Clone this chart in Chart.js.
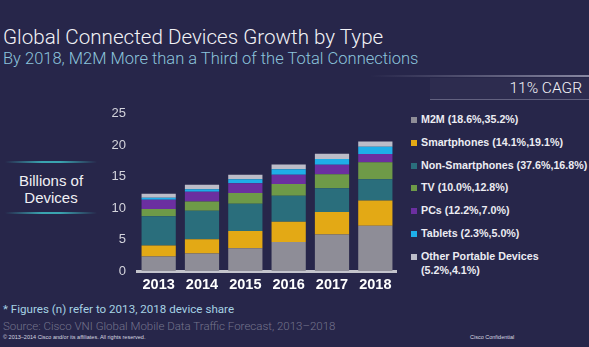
<!DOCTYPE html>
<html>
<head>
<meta charset="utf-8">
<script src="https://cdn.jsdelivr.net/npm/chart.js@4"></script>
<style>
  body { margin: 0; background: #27264a; width: 589px; height: 347px; overflow: hidden; position: relative; font-family: Roboto, "Liberation Sans", sans-serif; }
  .abs { position: absolute; white-space: nowrap; }
  #title { left: 3px; top: 25px; font-size: 20.6px; font-weight: 300; color: #f2f2f6; }
  #subtitle { left: 3px; top: 49px; font-size: 16.5px; font-weight: 300; color: #8cc4dc; }
  #sep { left: 370px; top: 75px; width: 219px; height: 2px; background: linear-gradient(to right, rgba(200,200,220,0), rgba(200,200,220,0.6)); }
  #cagr { left: 430px; top: 78px; width: 159px; height: 21px; border-bottom: 1px solid rgba(200,200,220,0.35); background: rgba(255,255,255,0.03); }
  #cagr span { position: absolute; right: 7px; top: 1px; font-size: 15.5px; font-weight: 300; color: #f4f4f8; }
  #units { left: 5px; top: 161px; width: 92px; height: 52px; text-align: center; color: #f0f0f4; font-size: 15px; line-height: 17px; font-family: "Liberation Sans", Arial, sans-serif; }
  .glow { position: absolute; left: 0; width: 92px; height: 2px; background: linear-gradient(to right, rgba(60,170,180,0), #3aa4b0 40%, #3aa4b0 60%, rgba(60,170,180,0)); }
  #legend { left: 411px; top: 112px; font-family: "Liberation Sans", Arial, sans-serif; font-weight: bold; font-size: 10.7px; color: #ececf2; }
  .item { position: absolute; left: 0; }
  .sw { position: absolute; left: 0; width: 6px; height: 6px; top: 5px; }
  .txt { position: absolute; left: 10px; top: 0; line-height: 14px; }
  #note { left: 3px; top: 302px; font-size: 11.6px; color: #a6d2e4; }
  #source { left: 3px; top: 319px; font-size: 11.5px; font-weight: 300; color: #74748c; }
  #copy { left: 3px; top: 334px; font-size: 5.5px; color: #d8d8e0; font-family: "Liberation Sans", Arial, sans-serif; }
  #conf { left: 470px; top: 334px; font-size: 5.5px; color: #d8d8e0; font-family: "Liberation Sans", Arial, sans-serif; }
  #chart { position: absolute; left: 100px; top: 95px; }
</style>
</head>
<body>
<div id="title" class="abs">Global Connected Devices Growth by Type</div>
<div id="subtitle" class="abs">By 2018, M2M More than a Third of the Total Connections</div>
<div id="sep" class="abs"></div>
<div id="cagr" class="abs"><span>11% CAGR</span></div>
<div id="units" class="abs">
  <div class="glow" style="top:0"></div>
  <div style="position:absolute;top:11px;width:92px">Billions of<br>Devices</div>
  <div class="glow" style="top:51px"></div>
</div>
<div id="legend" class="abs"></div>
<canvas id="chart" width="297" height="205"></canvas>
<div id="note" class="abs">* Figures (n) refer to 2013, 2018 device share</div>
<div id="source" class="abs">Source: Cisco VNI Global Mobile Data Traffic Forecast, 2013–2018</div>
<div id="copy" class="abs">© 2013–2014 Cisco and/or its affiliates. All rights reserved.</div>
<div id="conf" class="abs">Cisco Confidential</div>
<script>
'use strict';
// years on the x axis
let years = ['2013', '2014', '2015', '2016', '2017', '2018'];
let yTicks = [0, 5, 10, 15, 20, 25];

// billions of devices, bottom to top of each bar
let m2m = [2.3, 2.8, 3.6, 4.6, 5.8, 7.2];
let smartphones = [1.75, 2.25, 2.75, 3.25, 3.6, 4.0];
let nonSmartphones = [4.65, 4.55, 4.35, 4.1, 3.75, 3.4];
let tv = [1.15, 1.45, 1.7, 1.9, 2.25, 2.7];
let pcs = [1.5, 1.55, 1.55, 1.45, 1.5, 1.3];
let tablets = [0.3, 0.4, 0.65, 0.9, 0.9, 1.15];
let otherPortable = [0.65, 0.7, 0.7, 0.75, 0.85, 0.85];

let seriesNames = ['M2M (18.6%,35.2%)', 'Smartphones (14.1%,19.1%)', 'Non-Smartphones (37.6%,16.8%)', 'TV (10.0%,12.8%)', 'PCs (12.2%,7.0%)', 'Tablets (2.3%,5.0%)', 'Other Portable Devices (5.2%,4.1%)'];
let seriesData = [m2m, smartphones, nonSmartphones, tv, pcs, tablets, otherPortable];
let colors = ['#8e8d97', '#e3a915', '#2a6e7c', '#6e9a48', '#6b2fa0', '#1eaee8', '#bcbcc8'];

let datasets = [];
for (let i = 0; i < seriesData.length; i++) {
  datasets.push({
    label: seriesNames[i],
    data: seriesData[i],
    backgroundColor: colors[i],
    borderWidth: 0,
    barPercentage: 0.79,
    categoryPercentage: 1
  });
}

// legend on the right, built from the same names
let legendEl = document.getElementById('legend');
let rowTops = [0, 23, 46, 68, 91, 114, 137];
for (let i = 0; i < seriesNames.length; i++) {
  let itemEl = document.createElement('div');
  itemEl.className = 'item';
  itemEl.style.top = rowTops[i] + 'px';
  let swEl = document.createElement('div');
  swEl.className = 'sw';
  swEl.style.background = colors[i];
  let txtEl = document.createElement('div');
  txtEl.className = 'txt';
  if (i === seriesNames.length - 1) {
    txtEl.innerHTML = 'Other Portable Devices<br>(5.2%,4.1%)';
  } else {
    txtEl.textContent = seriesNames[i];
  }
  itemEl.appendChild(swEl);
  itemEl.appendChild(txtEl);
  legendEl.appendChild(itemEl);
}

let ctx = document.getElementById('chart').getContext('2d');
let myChart = new Chart(ctx, {
  type: 'bar',
  data: {
    labels: years,
    datasets: datasets
  },
  options: {
    responsive: false,
    animation: false,
    devicePixelRatio: 1,
    layout: { padding: { top: 10, right: 0, bottom: 0, left: 0 } },
    plugins: {
      legend: { display: false },
      tooltip: { enabled: false }
    },
    scales: {
      x: {
        stacked: true,
        grid: { display: false, drawTicks: false },
        border: { display: true, color: '#c4c4cc', width: 3 },
        ticks: { color: '#ffffff', font: { family: 'Liberation Sans', size: 14.5, weight: 'bold' }, padding: 5 },
        afterFit: function (s) { s.height = 29; }
      },
      y: {
        stacked: true,
        min: 0,
        max: 25,
        afterBuildTicks: function (s) { s.ticks = yTicks.map(function (v) { return { value: v }; }); },
        grid: { display: false, drawTicks: false },
        border: { display: false },
        ticks: { color: '#d4d4dc', font: { family: 'Liberation Sans', size: 13 }, padding: 11 },
        afterFit: function (s) { s.width = 37; }
      }
    }
  }
});
</script>
</body>
</html>
